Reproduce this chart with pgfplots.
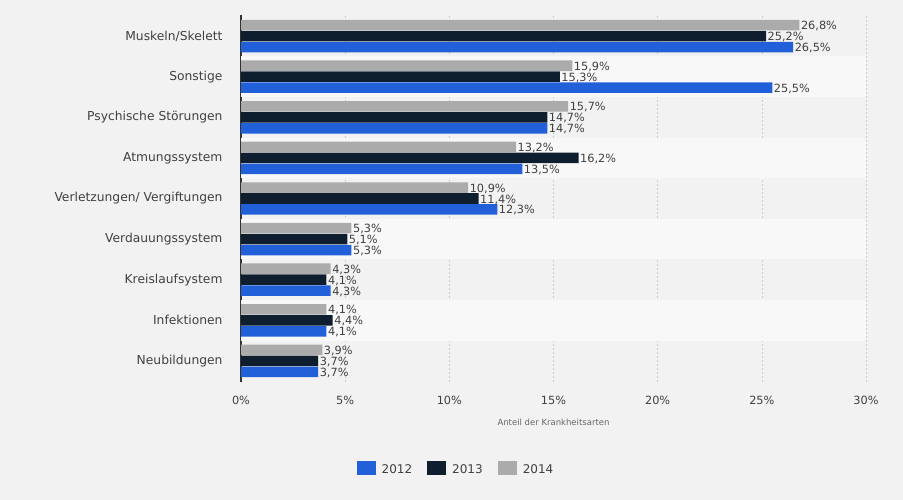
\documentclass[border=0pt]{standalone}
\usepackage{pgfplots}
\pgfplotsset{compat=1.18}
\usepackage{pgfplotstable}
\usepackage{fontspec}
\setmainfont{DejaVu Sans}

\definecolor{bg}{HTML}{F2F2F2}
\definecolor{band}{HTML}{F8F8F8}
\definecolor{c2012}{HTML}{2160D8}
\definecolor{c2013}{HTML}{0F1E2F}
\definecolor{c2014}{HTML}{ABABAB}
\definecolor{txt}{HTML}{404040}
\pagecolor{bg}

% y: 8 = Muskeln/Skelett (top) ... 0 = Neubildungen (bottom)
\pgfplotstableread{
y  a2012 a2013 a2014
8  26.5  25.2  26.8
7  25.5  15.3  15.9
6  14.7  14.7  15.7
5  13.5  16.2  13.2
4  12.3  11.4  10.9
3  5.3   5.1   5.3
2  4.3   4.1   4.3
1  4.1   4.4   4.1
0  3.7   3.7   3.9
}\krank

\begin{document}
\begin{tikzpicture}
\path (0,0) rectangle (903pt,500pt);
\begin{axis}[
  set layers,
  at={(241pt,118pt)}, anchor=south west,
  scale only axis,
  width=625pt, height=367pt,
  xmin=0, xmax=30,
  ymin=-0.52, ymax=8.52,
  xbar, bar width=0.26,
  axis x line*=bottom, axis y line*=left,
  x axis line style={draw=none},
  y axis line style={draw=black!80, line width=1.5pt},
  major tick length=0pt,
  xtick={0,5,10,15,20,25,30},
  xticklabels={0\%,5\%,10\%,15\%,20\%,25\%,30\%},
  ytick={0,...,8},
  yticklabels={Neubildungen,Infektionen,Kreislaufsystem,Verdauungssystem,Verletzungen/ Vergiftungen,Atmungssystem,Psychische Störungen,Sonstige,Muskeln/Skelett},
  xticklabel style={font=\fontsize{11.3}{13}\selectfont, text=txt, anchor=center, yshift=-18pt},
  yticklabel style={font=\fontsize{12.3}{14}\selectfont, text=txt, anchor=east, xshift=-15pt},
  xmajorgrids,
  grid style={draw=black!20, dash pattern=on 2pt off 2pt, line width=0.6pt},
  xlabel={Anteil der Krankheitsarten},
  xlabel style={font=\fontsize{8.5}{10}\selectfont, text=black!60, at={(axis description cs:0.5,-0.109)}, anchor=center},
  /pgf/number format/assume math mode=true,
  point meta=x,
  nodes near coords={\pgfmathprintnumber[fixed,fixed zerofill,precision=1,use comma]{\pgfplotspointmeta}\%},
  every node near coord/.append style={font=\fontsize{11.3}{13}\selectfont, text=txt, anchor=west, inner sep=1.5pt, yshift=-1pt},
  legend columns=3,
  legend style={at={(0.344,-0.237)}, anchor=center, draw=none, fill=none,
    font=\fontsize{12}{14}\selectfont, text=txt,
    /tikz/every odd column/.append style={column sep=4pt},
    /tikz/every even column/.append style={column sep=13pt}},
  legend image code/.code={\fill[#1] (0pt,-6pt) rectangle (19pt,8pt);},
]
\fill[on layer=axis background, band] (axis cs:0,6.5) rectangle (axis cs:30,7.5);
\fill[on layer=axis background, band] (axis cs:0,4.5) rectangle (axis cs:30,5.5);
\fill[on layer=axis background, band] (axis cs:0,2.5) rectangle (axis cs:30,3.5);
\fill[on layer=axis background, band] (axis cs:0,0.5) rectangle (axis cs:30,1.5);
\addplot[fill=c2012, draw=none, bar shift=-0.27] table[x=a2012, y=y] {\krank};
\addlegendentry{2012}
\addplot[fill=c2013, draw=none, bar shift=0] table[x=a2013, y=y] {\krank};
\addlegendentry{2013}
\addplot[fill=c2014, draw=none, bar shift=0.27] table[x=a2014, y=y] {\krank};
\addlegendentry{2014}
\end{axis}
\end{tikzpicture}
\end{document}
